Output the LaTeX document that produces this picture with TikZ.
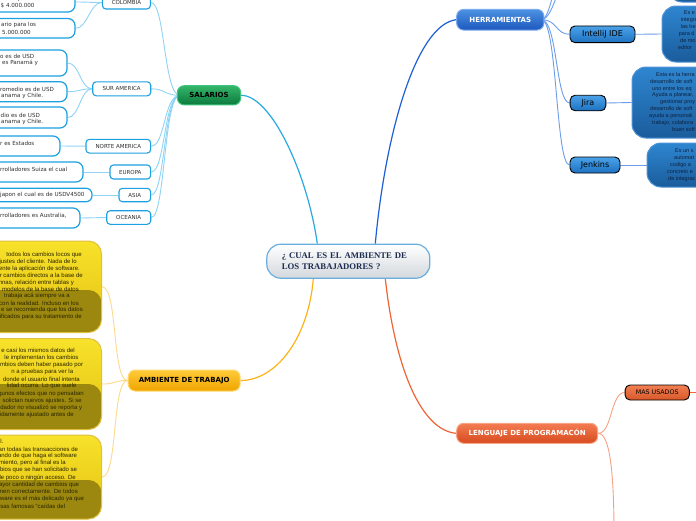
\documentclass[tikz,border=0pt]{standalone}
\usepackage{fontspec}
\setmainfont{DejaVu Sans}
\newfontfamily\libsans{Liberation Sans}
\newfontfamily\libserif{Liberation Serif}
\definecolor{subblue}{HTML}{1BA1E2}
\definecolor{ctrline}{HTML}{6AAEE0}
\definecolor{ctrbot}{HTML}{D3D8DD}
\definecolor{ctrtext}{HTML}{1C2B50}
\definecolor{salt}{HTML}{34B56A}
\definecolor{salb}{HTML}{0C7A3C}
\definecolor{sald}{HTML}{3FC47F}
\definecolor{hert}{HTML}{4C92E2}
\definecolor{herb}{HTML}{1D58BE}
\definecolor{herd}{HTML}{7AAAF0}
\definecolor{ambt}{HTML}{FFCB38}
\definecolor{ambb}{HTML}{EFA400}
\definecolor{ambd}{HTML}{FFD970}
\definecolor{lent}{HTML}{F47C52}
\definecolor{lenb}{HTML}{D64B1E}
\definecolor{lendr}{HTML}{F8A586}
\definecolor{hct}{HTML}{4BA2E8}
\definecolor{hcb}{HTML}{1E72C2}
\definecolor{blt}{HTML}{2E86D0}
\definecolor{blb}{HTML}{1A5C9C}
\definecolor{bld}{HTML}{4F95D8}
\definecolor{mast}{HTML}{F27F52}
\definecolor{masb}{HTML}{D8582A}
\definecolor{yt}{HTML}{F8E22A}
\definecolor{yb}{HTML}{E2C112}
\definecolor{yd}{HTML}{E0C040}
\definecolor{ydark}{HTML}{9C880E}
\definecolor{ytext}{HTML}{2A2500}
\definecolor{btext}{HTML}{0D2240}
\definecolor{ltext}{HTML}{303030}
\definecolor{csal}{HTML}{29A9E1}
\definecolor{cfan}{HTML}{8FD4F5}
\definecolor{cher}{HTML}{1D5FD6}
\definecolor{chfan}{HTML}{6B9DE8}
\definecolor{camb}{HTML}{FBB31B}
\definecolor{cyfan}{HTML}{FDD98C}
\definecolor{clen}{HTML}{EF6536}
\definecolor{clfan}{HTML}{F6A184}
\pgfdeclarelayer{bg}
\pgfsetlayers{bg,main}
\tikzset{
  ctrbox/.style={draw=ctrline, line width=1.2pt, rounded corners=14pt, top color=white, bottom color=ctrbot,
    minimum width=163pt, minimum height=34pt, text width=133pt, align=left, inner xsep=15pt, inner ysep=0pt,
    font=\libserif\bfseries\fontsize{8.7}{11}\selectfont, text=ctrtext},
  mainbox/.style={rounded corners=7pt, line width=1pt, inner sep=0pt, font=\bfseries\fontsize{7}{8}\selectfont},
  subbox/.style={draw=subblue, line width=1.1pt, fill=white, rounded corners=3.5pt, inner sep=0pt,
    font=\fontsize{5.5}{6}\selectfont, text=ltext},
  wleaf/.style={draw=subblue, line width=1.2pt, fill=white, rounded corners=7pt, inner sep=0pt, minimum width=160pt},
  hchild/.style={top color=hct, bottom color=hcb, draw=black, line width=0.9pt, rounded corners=5pt, inner sep=0pt,
    font=\fontsize{8}{9}\selectfont, text=black},
  bleaf/.style={top color=blt, bottom color=blb, draw=bld, line width=1pt, rounded corners=14pt, inner sep=0pt, minimum width=120pt},
  yleaf/.style={top color=yt, bottom color=yb, draw=yd, line width=1pt, rounded corners=13pt, inner sep=0pt, minimum width=200pt},
  ydk/.style={path picture={\fill[ydark] (path picture bounding box.south west) rectangle ([yshift=#1]path picture bounding box.south east);}},
  ltxt/.style={font=\fontsize{5.6}{6.5}\selectfont, text=ltext, inner sep=0pt, anchor=west},
  ytxt/.style={font=\libsans\fontsize{6}{7}\selectfont, text=ytext, inner sep=0pt, anchor=east},
  btxt/.style={font=\libsans\fontsize{5.5}{6}\selectfont, text=btext, inner sep=0pt, anchor=west},
  con/.style={line width=0.9pt},
}
\begin{document}
\begin{tikzpicture}[x=1pt,y=-1pt]
\useasboundingbox (0,0) rectangle (696,520);
\begin{pgfonlayer}{bg}
\fill[white] (0,0) rectangle (696,520);
\end{pgfonlayer}
\clip (0,0) rectangle (696,520);

% central
\node[ctrbox] (ctr) at (348.3,261.2) {¿ CUAL ES EL AMBIENTE DE\\LOS TRABAJADORES ?};

% main topics
\node[mainbox, top color=salt, bottom color=salb, draw=sald, text=black, minimum width=63.4pt, minimum height=19.3pt] (sal) at (209,95.3) {SALARIOS};
\node[mainbox, top color=hert, bottom color=herb, draw=herd, text=white, minimum width=87.3pt, minimum height=20.7pt] (her) at (500.3,19.7) {HERRAMIENTAS};
\node[mainbox, top color=ambt, bottom color=ambb, draw=ambd, text=black, minimum width=112pt, minimum height=21pt] (amb) at (184.2,380.5) {AMBIENTE DE TRABAJO};
\node[mainbox, top color=lent, bottom color=lenb, draw=lendr, text=white, minimum width=141pt, minimum height=20pt] (len) at (527.2,433.3) {LENGUAJE DE PROGRAMACÓN};

% salarios sub nodes
\node[subbox, minimum width=48pt, minimum height=13pt] (col) at (126.4,2.5) {COLOMBIA};
\node[subbox, minimum width=58pt, minimum height=14pt] (sur) at (121.7,88.8) {SUR AMERICA};
\node[subbox, minimum width=64.7pt, minimum height=13.7pt] (nor) at (118.3,146.2) {NORTE AMERICA};
\node[subbox, minimum width=40.7pt, minimum height=14pt] (eur) at (130.3,172) {EUROPA};
\node[subbox, minimum width=31.7pt, minimum height=13.4pt] (asi) at (134.8,195) {ASIA};
\node[subbox, minimum width=44pt, minimum height=13.6pt] (oce) at (128.7,217.5) {OCEANIA};

% salarios leaves
\node[wleaf, minimum height=20pt] (lc1) at (-5,2) {};
\node[wleaf, minimum height=19.5pt] (lc2) at (-5,28.3) {};
\node[wleaf, minimum height=26pt] (ls1) at (-13,63) {};
\node[wleaf, minimum height=20pt] (ls2) at (-13,91.7) {};
\node[wleaf, minimum height=21pt] (ls3) at (-13,117.5) {};
\node[wleaf, minimum height=20pt] (ln) at (-20,146) {};
\node[wleaf, minimum height=20pt] (le) at (3,172) {};
\node[wleaf, minimum height=13.5pt, rounded corners=6pt] (la) at (12,195) {};
\node[wleaf, minimum height=20pt] (lo) at (0,218) {};

\node[ltxt] (t1) at (0,-1) {alario para los};
\node[ltxt] (t2) at (0.5,5.7) {\$ 4.000.000};
\node[ltxt] (t3) at (1,24.7) {ario para los};
\node[ltxt] (t4) at (2,32) {5.000.000};
\node[ltxt] (t5) at (0,56) {o es de USD};
\node[ltxt] (t6) at (2,63.3) {es Panamá y};
\node[ltxt] (t7) at (0,89.3) {romedio es de USD};
\node[ltxt] (t8) at (1,95.7) {anama y Chile.};
\node[ltxt] (t9) at (0.5,115) {dio es de USD};
\node[ltxt] (t10) at (1,121.7) {anama y Chile.};
\node[ltxt] (t11) at (0,143) {r es Estados};
\node[ltxt] (t12) at (0,169.3) {rrolladores Suiza el cual};
\node[ltxt] (t13) at (0,195.3) {japon el cual es de USDV4500};
\node[ltxt] (t14) at (0,215.3) {rrolladores es Australia,};

% herramientas children
\node[hchild, minimum width=65pt, minimum height=16.7pt] (ij) at (602.5,34.3) {IntelliJ IDE};
\node[hchild, minimum width=35.7pt, minimum height=15.5pt] (jira) at (588,103) {Jira};
\node[hchild, minimum width=50pt, minimum height=16pt] (jen) at (595,165) {Jenkins};

\node[bleaf, minimum height=54pt] (topl) at (728,-25) {};
\node[bleaf, minimum height=56pt] (ijl) at (722,34) {};
\node[bleaf, minimum height=71pt] (jil) at (692,102.5) {};
\node[bleaf, minimum height=44pt] (jel) at (707,165) {};

\foreach \yy/\xx/\txt [count=\i] in {12.7/683.7/{Es e}, 20/680.7/{integra}, 26.7/680.7/{las he}, 34/678.7/{para d}, 40.7/680/{de mo}, 47.7/678/{editor}}
  \node[btxt] (bi\i) at (\xx,\yy) {\txt};
\foreach \yy/\xx/\txt [count=\i] in {75/656/{Esta es la herra}, 81.8/650/{desarrollo de soft}, 88.6/652/{uno entre los eq}, 95.4/652/{Ayuda a planear,}, 102.2/660/{gestionar proy}, 109/650/{desarrollo de soft}, 115.8/649/{ayuda a personali}, 122.6/652/{trabajo, colabora}, 129.4/672/{buen soft}}
  \node[btxt] (bj\i) at (\xx,\yy) {\txt};
\foreach \yy/\xx/\txt [count=\i] in {150.7/675/{Es un s}, 157.7/674/{automat}, 164.7/670/{codigo a}, 171.7/667/{concreto e}, 178.7/668/{de integrac}}
  \node[btxt] (bk\i) at (\xx,\yy) {\txt};

% lenguaje child
\node[hchild, top color=mast, bottom color=masb, minimum width=64.3pt, minimum height=15pt, font=\fontsize{6.3}{7}\selectfont] (mas) at (657.2,392.5) {MAS USADOS};

% yellow leaves
\node[yleaf, ydk=42.5pt, minimum height=91.5pt] (y1) at (1.5,286.75) {};
\node[yleaf, ydk=45.5pt, minimum height=91pt] (y2) at (1.5,384) {};
\node[yleaf, ydk=39pt, minimum height=84pt] (y3) at (1.5,477) {};

\foreach \yy/\xx/\txt [count=\i] in {254.7/82/{todos los cambios locos que}, 261.7/77/{ajustes del cliente. Nada de lo}, 268.6/80/{ente la aplicación de software.}, 275.6/83/{r cambios directos a la base de}, 282.5/74/{mnas, relación entre tablas y}, 289.5/79/{modelos de la base de datos}, 296.4/70/{trabaja acá siempre va a}, 303.4/79/{con la realidad. Incluso en los}, 310.3/83/{e se recomienda que los datos}, 317.3/82/{ificados para su tratamiento de}}
  \node[ytxt] (ya\i) at (\xx,\yy) {\txt};
\foreach \yy/\xx/\txt [count=\i] in {350.7/75/{e casi los mismos datos del}, 357.8/78.7/{le implementan los cambios}, 364.9/83.3/{mbios deben haber pasado por}, 372.1/73.3/{n a pruebas para ver la}, 379.2/80/{donde el usuario final intenta}, 386.4/76.7/{lidad ocurra. Lo que suele}, 393.5/84/{gunos efectos que no pensaban}, 400.7/82/{solictan nuevos ajustes. Si se}, 407.8/82.3/{dador no visualizó se reporta y}, 415/74/{idamente ajustado antes de}}
  \node[ytxt] (yb\i) at (\xx,\yy) {\txt};
\foreach \yy/\xx/\txt [count=\i] in {441.7/3.5/{l.}, 448.9/78.3/{an todas las transacciones de}, 456/77.3/{ando de que haga el software}, 463.2/66/{miento, pero al final es la}, 470.3/77.3/{bios que se han solicitado se}, 477.5/76/{le poco o ningún acceso. De}, 484.6/79.3/{mayor cantidad de cambios que}, 491.8/78/{nen correctamente. De todos}, 498.9/84.3/{ftware es el más delicado ya que}, 506/65.3/{esas famosas “caídas del}}
  \node[ytxt] (yc\i) at (\xx,\yy) {\txt};

% free ends
\coordinate (hup1) at (578,-40);
\coordinate (hup2) at (578,-90);
\coordinate (lend) at (614,535);
\coordinate (masr) at (700,392.5);

\begin{pgfonlayer}{bg}
\draw[line width=1.2pt, csal] (sal.east) .. controls +(30,0) and +(-10,-70) .. ([xshift=-31pt]ctr.north);
\draw[line width=1.2pt, cher] ([xshift=27pt]ctr.north) .. controls +(10,-110) and +(-40,5) .. (her.west);
\draw[line width=1.2pt, camb] ([xshift=-35pt]ctr.south) .. controls +(-5,60) and +(35,0) .. (amb.east);
\draw[line width=1.2pt, clen] ([xshift=37pt]ctr.south) .. controls +(10,90) and +(-35,-3) .. (len.west);

\foreach \n in {col,sur,nor,eur,asi,oce}
  \draw[con, cfan] ([xshift=3pt]sal.west) .. controls +(-16,0) and +(14,0) .. (\n.east);
\foreach \a/\b in {col/lc1, col/lc2, sur/ls1, sur/ls2, sur/ls3, nor/ln, eur/le, asi/la, oce/lo}
  \draw[con, cfan] (\a.west) .. controls +(-12,0) and +(12,0) .. (\b.east);

\foreach \n in {y1,y2,y3}
  \draw[con, cyfan] (amb.west) .. controls +(-16,0) and +(16,0) .. (\n.east);

\foreach \n in {ij,jira,jen}
  \draw[con, chfan] ([xshift=-3pt]her.east) .. controls +(16,0) and +(-14,0) .. (\n.west);
\foreach \n in {hup1,hup2}
  \draw[con, chfan] ([xshift=-3pt]her.east) .. controls +(14,0) and +(-16,0) .. (\n);
\draw[con, chfan] (ij.east) -- (ijl.west);
\draw[con, chfan] (jira.east) -- (jil.west);
\draw[con, chfan] (jen.east) -- (jel.west);

\draw[con, clfan] (len.east) .. controls +(14,0) and +(-14,0) .. (mas.west);
\draw[con, clfan] (len.east) .. controls +(12,0) and +(0,-60) .. (lend);
\draw[con, clen] (mas.east) -- (masr);
\end{pgfonlayer}
\end{tikzpicture}
\end{document}
